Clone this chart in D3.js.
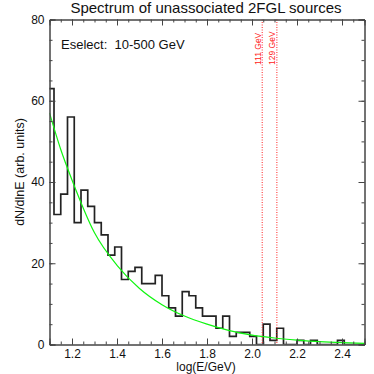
<!DOCTYPE html>
<html>
<head>
<meta charset="utf-8">
<script src="https://cdn.jsdelivr.net/npm/d3@7"></script>
<style>
  body { margin: 0; background: #fff; }
  text { font-family: "Liberation Sans", Arial, sans-serif; }
</style>
</head>
<body>
<div id="chart"></div>
<script>
// histogram: bins of 0.03 in log10(E/GeV), starting at 1.09
var binStart = 1.09;
var binWidth = 0.03;
var counts = [63, 32, 37, 56, 30, 38, 34, 30, 27, 22,
              24, 16, 18, 19, 15, 15, 17, 12, 9, 7,
              13, 12, 9, 7, 7, 4, 7, 2, 3, 3,
              2, 0, 5, 1, 4, 0, 0, 1, 0, 1,
              0, 0, 0, 1, 0, 0, 0];

// green fit curve
var fitX = [1.1, 1.15, 1.2, 1.3, 1.4, 1.5, 1.6, 1.7, 1.8, 1.9, 2.0, 2.1, 2.2, 2.3, 2.4, 2.5];
var fitY = [57, 48, 40.5, 27.5, 19.5, 13.8, 9.8, 7, 5, 3.4, 2.3, 1.6, 1.1, 0.7, 0.45, 0.3];

// red marker lines
var markerE = [111, 129];
var markerLabels = ["111 GeV", "129 GeV"];

var xMajor = [1.2, 1.4, 1.6, 1.8, 2.0, 2.2, 2.4];
var yMajor = [0, 20, 40, 60, 80];

var margin = { top: 19.5, right: 9.5, bottom: 29.5, left: 49.5 },
    W = 374, H = 374,
    width = W - margin.left - margin.right,
    height = H - margin.top - margin.bottom;

var svg = d3.select("#chart").append("svg")
    .attr("width", W).attr("height", H);

var g = svg.append("g")
    .attr("transform", "translate(" + margin.left + "," + margin.top + ")");

var x = d3.scaleLinear().domain([1.1, 2.5]).range([0, width]);
var y = d3.scaleLinear().domain([0, 80]).range([height, 0]);

svg.append("defs").append("clipPath").attr("id", "clip")
    .append("rect").attr("width", width).attr("height", height);

// build step path points from the bins
var steps = [];
counts.forEach(function (c, i) {
    var lo = binStart + i * binWidth;
    steps.push([lo, c]);
    steps.push([lo + binWidth, c]);
});

var plot = g.append("g").attr("clip-path", "url(#clip)");

plot.append("path")
    .datum(steps)
    .attr("fill", "none")
    .attr("stroke", "#222")
    .attr("stroke-width", 1.7)
    .attr("d", d3.line()
        .x(function (d) { return x(d[0]); })
        .y(function (d) { return y(d[1]); }));

plot.append("path")
    .datum(fitX.map(function (v, i) { return [v, fitY[i]]; }))
    .attr("fill", "none")
    .attr("stroke", "#11f511")
    .attr("stroke-width", 1.2)
    .attr("d", d3.line()
        .curve(d3.curveMonotoneX)
        .x(function (d) { return x(d[0]); })
        .y(function (d) { return y(d[1]); }));

// red dotted lines
markerE.forEach(function (e, i) {
    var lx = x(Math.log10(e));
    g.append("line")
        .attr("x1", lx).attr("x2", lx)
        .attr("y1", 0).attr("y2", height)
        .attr("stroke", "#ff2020")
        .attr("stroke-width", 1)
        .attr("stroke-dasharray", "1,1.5");
    g.append("text")
        .attr("transform", "translate(" + (lx - 1.5) + "," + 45.5 + ") rotate(-90)")
        .attr("font-size", "8.5px")
        .attr("fill", "#ff2020")
        .text(markerLabels[i]);
});

// axes, ticks pointing inward
var axisColor = "#444";
function styleAxis(sel) {
    sel.select(".domain").attr("stroke", axisColor);
    sel.selectAll(".tick line").attr("stroke", axisColor);
    sel.selectAll("text").attr("fill", "#111").attr("font-size", "12px")
        .attr("font-family", "Liberation Sans, Arial, sans-serif");
}
var xMinor = d3.range(1.15, 2.5, 0.05);
var yMinor = d3.range(5, 80, 5);

g.append("g").attr("transform", "translate(0," + height + ")")
    .call(d3.axisBottom(x).tickValues(xMinor).tickSize(-3).tickFormat(""))
    .call(styleAxis);
g.append("g").attr("transform", "translate(0," + height + ")")
    .call(d3.axisBottom(x).tickValues(xMajor).tickSize(-6).tickPadding(5)
        .tickFormat(d3.format(".1f")))
    .call(styleAxis);
g.append("g")
    .call(d3.axisTop(x).tickValues(xMinor).tickSize(-3).tickFormat(""))
    .call(styleAxis);
g.append("g")
    .call(d3.axisTop(x).tickValues(xMajor).tickSize(-6).tickFormat(""))
    .call(styleAxis);

g.append("g")
    .call(d3.axisLeft(y).tickValues(yMinor).tickSize(-3).tickFormat(""))
    .call(styleAxis);
g.append("g")
    .call(d3.axisLeft(y).tickValues(yMajor).tickSize(-6).tickPadding(5))
    .call(styleAxis);
g.append("g").attr("transform", "translate(" + width + ",0)")
    .call(d3.axisRight(y).tickValues(yMinor).tickSize(-3).tickFormat(""))
    .call(styleAxis);
g.append("g").attr("transform", "translate(" + width + ",0)")
    .call(d3.axisRight(y).tickValues(yMajor).tickSize(-6).tickFormat(""))
    .call(styleAxis);

// texts
svg.append("text")
    .attr("x", 206).attr("y", 13)
    .attr("text-anchor", "middle")
    .attr("font-size", "15px")
    .attr("fill", "#111")
    .text("Spectrum of unassociated 2FGL sources");

svg.append("text")
    .attr("x", 61).attr("y", 49)
    .attr("font-size", "13px")
    .attr("fill", "#111")
    .style("white-space", "pre")
    .text("Eselect:  10-500 GeV");

svg.append("text")
    .attr("x", 206).attr("y", 371)
    .attr("text-anchor", "middle")
    .attr("font-size", "12px")
    .attr("fill", "#111")
    .text("log(E/GeV)");

svg.append("text")
    .attr("transform", "translate(24,172) rotate(-90)")
    .attr("text-anchor", "middle")
    .attr("font-size", "12.5px")
    .attr("fill", "#111")
    .text("dN/dlnE (arb. units)");
</script>
</body>
</html>
